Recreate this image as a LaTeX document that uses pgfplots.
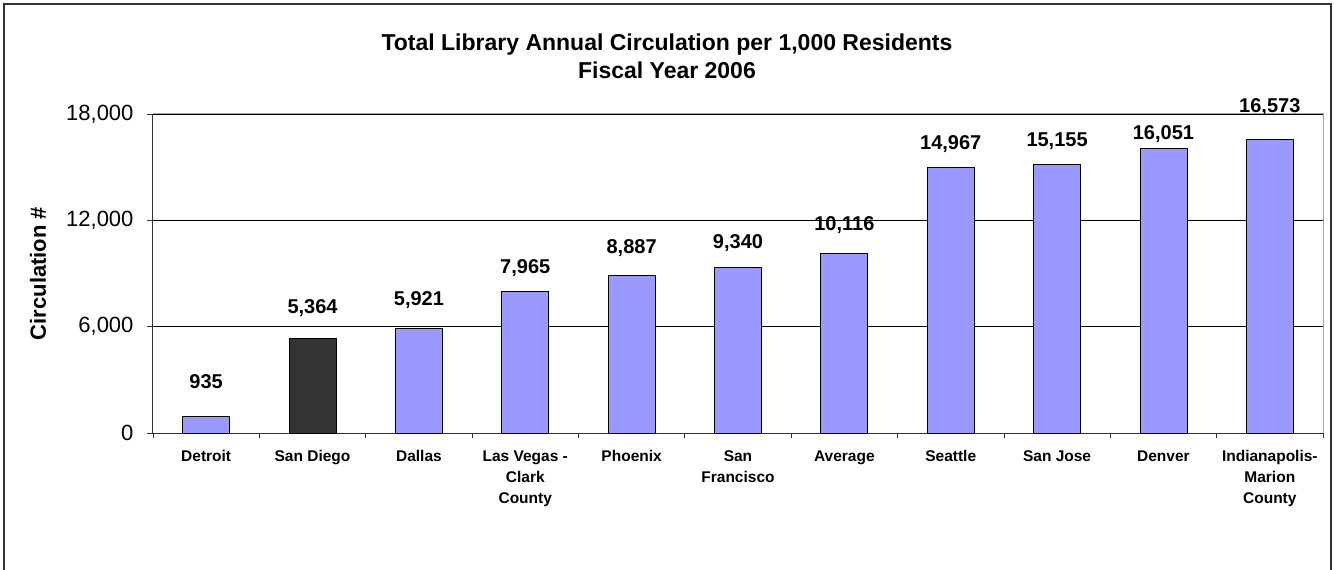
\documentclass[border=0pt]{standalone}
\usepackage{fontspec}
\setmainfont{Liberation Sans}
\usepackage{pgfplots}
\usepackage{pgfplotstable}
\pgfplotsset{compat=1.18}
\definecolor{barblue}{HTML}{9999FF}
\definecolor{bardark}{HTML}{333333}

% x = category index, y = circulation, off = label height above bar (pt)
\pgfplotstableread{
x y off
0 935 35
2 5921 28
3 7965 24
4 8887 27
5 9340 24
6 10116 29
7 14967 24
8 15155 23
9 16051 14
10 16573 32
}\mainbars
\pgfplotstableread{
x y off
1 5364 30
}\sdbar

\pgfkeys{/pgf/number format/.cd,1000 sep={,},assume math mode=true}

\begin{document}
\begin{tikzpicture}
\path[use as bounding box] (-153pt,-137pt) rectangle (1181pt,433pt);
\draw[line width=2pt, black!80] (-148.5pt,-145pt) -- (-148.5pt,429pt) -- (1178pt,429pt) -- (1178pt,-145pt);
\begin{axis}[
    at={(0pt,0pt)}, anchor=south west,
    scale only axis, width=1170pt, height=319pt,
    xmin=-0.5, xmax=10.5, ymin=0, ymax=18000,
    ybar, bar width=47pt, bar shift=0pt,
    axis x line*=bottom, axis y line*=left,
    axis line style={black!80, line width=1pt},
    xtick={0,...,10},
    minor xtick={-0.5,0.5,...,10.5},
    xticklabels={Detroit, San Diego, Dallas, {Las Vegas -\\Clark\\County}, Phoenix,
        {San\\Francisco}, Average, Seattle, San Jose, Denver, {Indianapolis-\\Marion\\County}},
    ytick={0,6000,12000,18000},
    scaled y ticks=false,
    tick align=outside,
    major tick length=6pt, minor tick length=5pt,
    tick style={black!80, line width=0.8pt},
    major x tick style={draw=none},
    ymajorgrids, grid style={black, line width=0.8pt},
    xticklabel style={font=\fontsize{15.5}{21}\selectfont\bfseries, align=center, yshift=-8pt},
    yticklabel style={font=\fontsize{22}{26}\selectfont, xshift=-10pt},
    title={Total Library Annual Circulation per 1,000 Residents\\Fiscal Year 2006},
    title style={at={(axis description cs:0.4393,1.163)}, anchor=center, align=center,
        font=\fontsize{23}{28}\selectfont\bfseries},
    ylabel={Circulation \#},
    ylabel style={at={(axis description cs:-0.0983,0.5)}, anchor=center,
        font=\fontsize{22}{26}\selectfont\bfseries},
    clip=false,
    nodes near coords,
    visualization depends on={\thisrow{off}\as\off},
    every node near coord/.append style={font=\fontsize{20}{24}\selectfont\bfseries,
        anchor=center, yshift=\off pt, black},
]
\addplot[fill=barblue, draw=black, line width=0.8pt] table[x=x, y=y] {\mainbars};
\addplot[fill=bardark, draw=black, line width=0.8pt] table[x=x, y=y] {\sdbar};
\draw[gray!70, line width=1pt] (rel axis cs:0,1) -- (rel axis cs:1,1) -- (rel axis cs:1,0);
\end{axis}
\end{tikzpicture}
\end{document}
